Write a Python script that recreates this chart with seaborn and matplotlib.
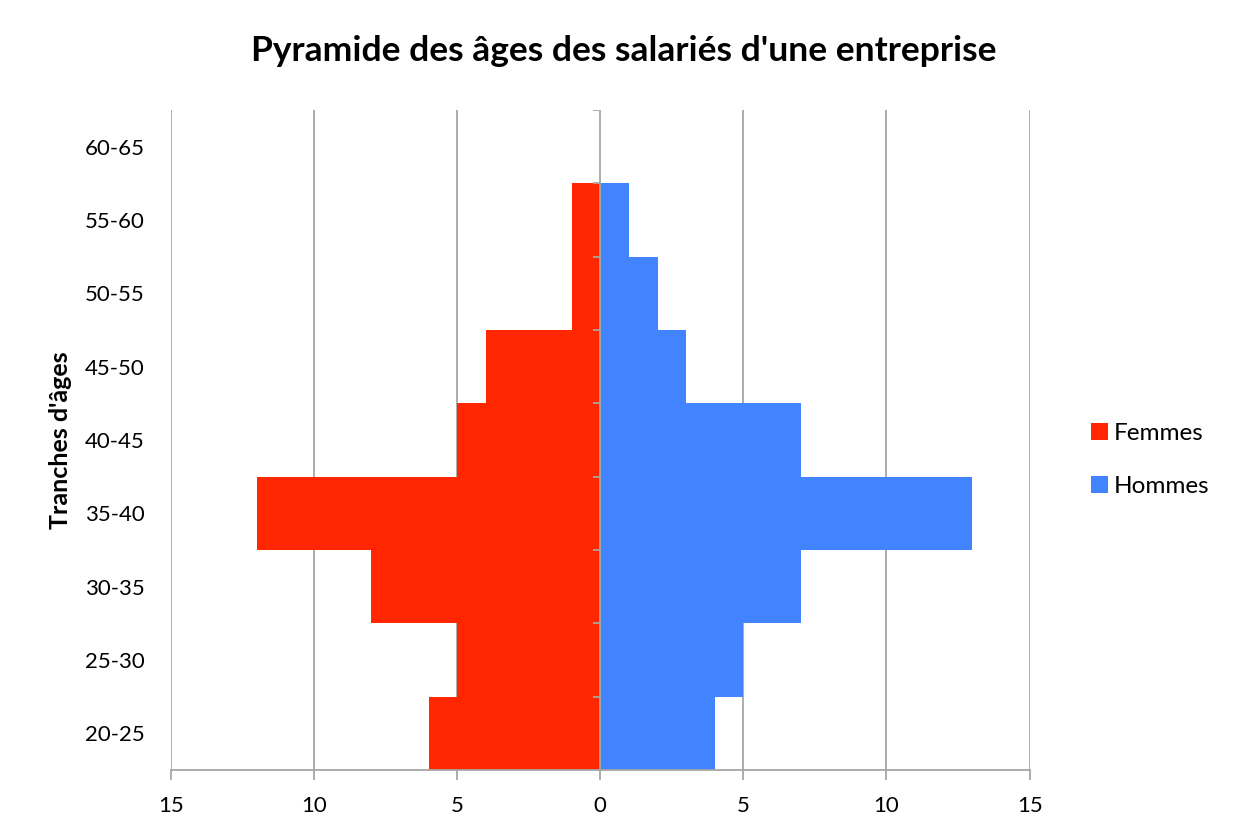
import matplotlib
matplotlib.use("Agg")
import matplotlib.pyplot as plt
import pandas as pd
import seaborn as sns

# Age bands, top to bottom as drawn
tranches = ["60-65", "55-60", "50-55", "45-50", "40-45", "35-40", "30-35", "25-30", "20-25"]
femmes = [0, 1, 1, 4, 5, 12, 8, 5, 6]
hommes = [0, 1, 2, 3, 7, 13, 7, 5, 4]
x_ticks = [-15, -10, -5, 0, 5, 10, 15]

sns.set_theme(style="white")
plt.rcParams["font.family"] = ["Lato", "DejaVu Sans"]
plt.rcParams["text.color"] = "black"

df = pd.DataFrame({"Tranche": tranches, "Femmes": [-v for v in femmes], "Hommes": hommes})

fig = plt.figure(figsize=(12.48, 8.4), dpi=100)
ax = fig.add_axes([0.137, 0.0833, 0.688, 0.7857])

grid_col = "#a6a6a6"
for x in x_ticks:
    if x != 0:
        ax.axvline(x, color=grid_col, lw=1.3, zorder=0)

sns.barplot(data=df, x="Femmes", y="Tranche", order=tranches, color="#ff2600",
            width=1.0, saturation=1, linewidth=0, label="Femmes", ax=ax, zorder=2)
sns.barplot(data=df, x="Hommes", y="Tranche", order=tranches, color="#4283ff",
            width=1.0, saturation=1, linewidth=0, label="Hommes", ax=ax, zorder=2)

# zero axis with small ticks at band boundaries
ax.axvline(0, color=grid_col, lw=1.3, zorder=3)
ax.hlines([i - 0.5 for i in range(len(tranches))], -0.25, 0, color=grid_col, lw=1.3, zorder=3)

ax.set_xlim(-15, 15)
ax.set_ylim(len(tranches) - 0.5, -0.5)
ax.set_xticks(x_ticks)
ax.set_xticklabels([str(abs(v)) for v in x_ticks], fontsize=16, color="black")
ax.tick_params(axis="x", bottom=True, length=7, width=1.3, color=grid_col, pad=12)
ax.tick_params(axis="y", left=False, labelsize=16, pad=13, labelcolor="black")

for s in ["top", "right", "left"]:
    ax.spines[s].set_visible(False)
ax.spines["bottom"].set_color(grid_col)
ax.spines["bottom"].set_linewidth(1.3)

ax.set_xlabel("")
ax.set_ylabel("Tranches d'âges", fontsize=18, fontweight="bold", labelpad=9, color="black")
fig.suptitle("Pyramide des âges des salariés d'une entreprise", fontsize=25.5,
             fontweight="bold", x=0.5, y=0.958, color="black")

leg = ax.legend(loc="center left", bbox_to_anchor=(1.046, 0.47), frameon=False,
                fontsize=17.5, labelspacing=1.3, handlelength=0.7, handleheight=0.7,
                handletextpad=0.25)

fig.savefig("out.png", dpi=100)
